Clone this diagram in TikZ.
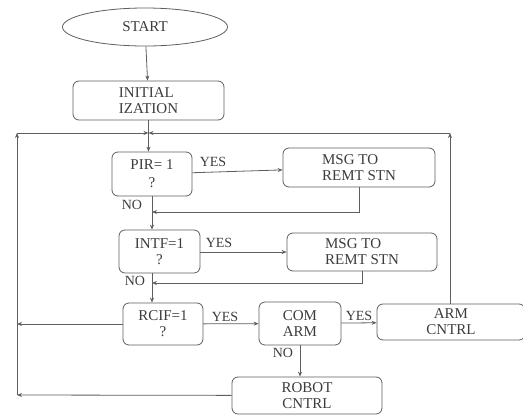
\documentclass[tikz,border=0pt]{standalone}
\usepackage{fontspec}
\setmainfont{Liberation Serif}
\usepackage{xcolor}
\usepackage{tikz}
\usetikzlibrary{arrows.meta,shapes.geometric,calc}
\definecolor{linec}{HTML}{5E5E5E}
\definecolor{txtc}{HTML}{3C3C3C}

\begin{document}
\begin{tikzpicture}[x=1pt, y=-1pt, font=\fontsize{15}{16}\selectfont, text=txtc, line width=0.8pt,
  blk/.style={draw=linec, rounded corners=6pt, align=center, inner sep=0pt},
  flow/.style={draw=linec, -{Stealth[length=5pt,width=4pt]}},
  lbl/.style={font=\fontsize{14}{15}\selectfont, inner sep=0pt}]
  \useasboundingbox (0,0) rectangle (523,416);
  % blocks
  \node[draw=linec, ellipse, minimum width=165pt, minimum height=38pt] (start) at (145,27) {START};
  \node[blk, align=left, minimum width=151pt, minimum height=39pt] (init) at (148.5,100.5) {INITIAL\\IZATION};
  \node[blk, minimum width=80pt, minimum height=44pt] (pir) at (152,174) {PIR= 1\\[2pt]?};
  \node[blk, align=left, minimum width=152pt, minimum height=39pt] (msga) at (359,167.5) {MSG TO\\REMT STN};
  \node[blk, minimum width=81pt, minimum height=43pt] (intf) at (159.5,251.5) {INTF=1\\?};
  \node[blk, align=left, minimum width=150pt, minimum height=38pt] (msgb) at (362,252) {MSG TO\\REMT STN};
  \node[blk, minimum width=80pt, minimum height=42pt] (rcif) at (163,324) {RCIF=1\\?};
  \node[blk, minimum width=82pt, minimum height=43pt] (com) at (300,323.5) {COM\\ARM};
  \node[blk, minimum width=148pt, minimum height=36pt] (arm) at (451,322) {ARM\\CNTRL};
  \node[blk, minimum width=150pt, minimum height=37pt] (robot) at (307,395.5) {ROBOT\\CNTRL};
  % loop corners
  \coordinate (lbot) at (17,395);
  \coordinate (ltop) at (17,133);
  \coordinate (rtop) at (450,133);
  \coordinate (join) at (148.5,133);
  \coordinate (spa) at (152,212);
  \coordinate (spb) at (152,283);
  % connectors
  \draw[flow] (start) -- (init);
  \draw[flow] (init) -- (init |- pir.north);
  \draw[flow] (pir) -- (pir.south |- intf.north);
  \draw[flow] (pir.south |- intf.south) -- (pir.south |- rcif.north);
  \draw[flow] (pir) -- (msga);
  \draw[flow] (msga.south) |- (spa);
  \draw[flow] (intf.east |- msgb) -- (msgb);
  \draw[flow] (msgb.south) |- (spb);
  \draw[flow] (rcif) -- (com);
  \draw[flow] (com) -- (arm);
  \draw[flow] (com) -- (com |- robot.north);
  \draw[flow] (rcif) -- (lbot |- rcif);
  \draw[flow] (robot) -- (lbot);
  \draw[flow] (lbot) -- (ltop);
  \draw[flow] (ltop) -- (join);
  \draw[flow] (arm.north -| rtop) -- (rtop);
  \draw[flow] (rtop) -- (join);
  % labels
  \node[lbl] (ya) at (213,162) {YES};
  \node[lbl] (na) at (132,205) {NO};
  \node[lbl] (yb) at (219,243) {YES};
  \node[lbl] (nb) at (135,281) {NO};
  \node[lbl] (yc) at (225,317) {YES};
  \node[lbl] (yd) at (359,316) {YES};
  \node[lbl] (nc) at (283,353) {NO};
\end{tikzpicture}
\end{document}
